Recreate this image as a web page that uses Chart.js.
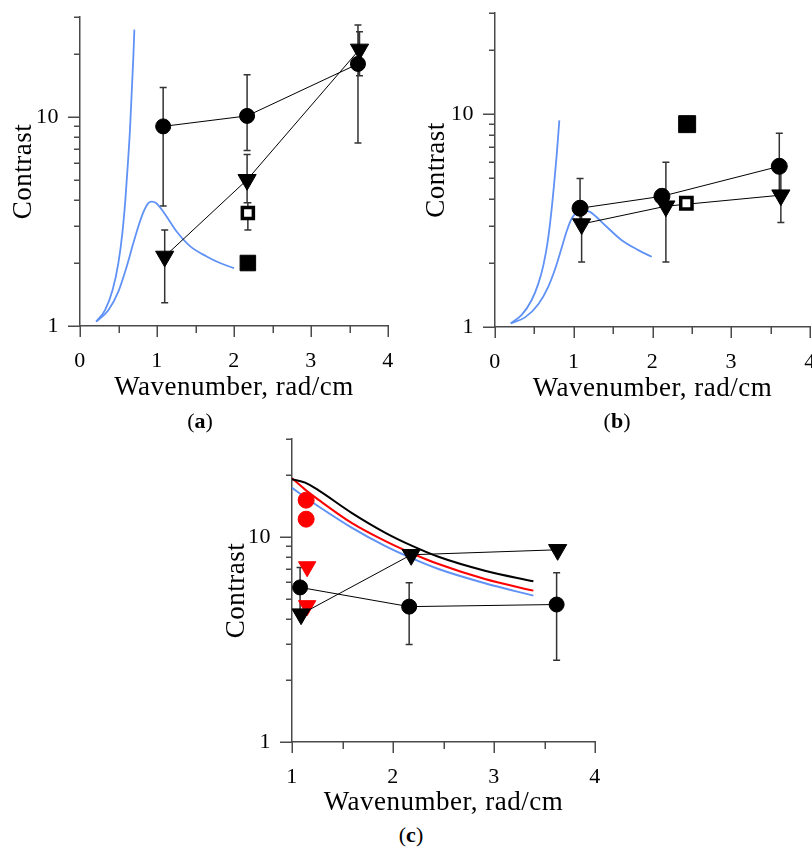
<!DOCTYPE html>
<html>
<head>
<meta charset="utf-8">
<script src="https://cdn.jsdelivr.net/npm/chart.js@4.4.0/dist/chart.umd.min.js"></script>
<style>
  html, body { margin: 0; padding: 0; background: #fff; }
  body { position: relative; width: 812px; height: 850px; overflow: hidden; }
  canvas { position: absolute; }
  .tag { position: absolute; font-family: "Liberation Serif", "Times New Roman", serif; font-size: 22px; color: #000;
         line-height: 1; transform: translate(-50%, -50%); white-space: nowrap; }
</style>
</head>
<body>
<canvas id="chartA" width="400" height="404" style="left:0;top:0"></canvas>
<canvas id="chartB" width="430" height="405" style="left:400px;top:0"></canvas>
<canvas id="chartC" width="412" height="399" style="left:200px;top:420px"></canvas>
<div class="tag" style="left:200px;top:421px">(<b>a</b>)</div>
<div class="tag" style="left:617px;top:421px">(<b>b</b>)</div>
<div class="tag" style="left:411px;top:835px">(<b>c</b>)</div>

<script>
// ---- shared axis ticks ----
var yTickValues = [1, 2, 3, 4, 5, 6, 7, 8, 9, 10, 20, 30];
var yLabelled = [1, 10];

// ---- panel (a) ----
var aCircleX = [1.08, 2.17, 3.61];
var aCircleY = [9.0, 10.1, 17.9];
var aCircleHi = [13.8, 15.9, 27.5];
var aCircleLo = [3.75, 6.9, 7.5];
var aTriX = [1.10, 2.17, 3.63];
var aTriY = [2.15, 5.0, 21.0];
var aTriHi = [2.88, 6.6, 25.5];
var aTriLo = [1.29, 3.88, 15.7];
var aOpenX = [2.18];
var aOpenY = [3.47];
var aOpenHi = [3.88];
var aOpenLo = [2.88];
var aFillX = [2.18];
var aFillY = [2.0];
var aSteepX = [0.21, 0.325, 0.424, 0.498, 0.550, 0.589, 0.619, 0.649, 0.675, 0.693, 0.706];
var aSteepY = [1.05, 1.19, 1.49, 2.0, 2.78, 4.01, 5.78, 8.67, 13.96, 19.4, 26.1];
var aPeakX = [0.21, 0.368, 0.498, 0.606, 0.693, 0.771, 0.836, 0.887, 0.931, 0.987, 1.082, 1.255, 1.429, 1.645, 1.818, 2.0];
var aPeakY = [1.05, 1.19, 1.46, 1.92, 2.49, 3.10, 3.59, 3.87, 3.93, 3.87, 3.52, 2.83, 2.41, 2.15, 2.0, 1.89];

// ---- panel (b) ----
var bCircleX = [1.08, 2.12, 3.61];
var bCircleY = [3.62, 4.12, 5.7];
var bCircleHi = [5.0, null, 8.15];
var bCircleLo = [3.08, null, 4.17];
var bTriX = [1.10, 2.17, 3.63];
var bTriY = [3.05, 3.7, 4.17];
var bTriHi = [3.62, 5.95, 5.7];
var bTriLo = [2.02, 2.02, 3.1];
var bOpenX = [2.43];
var bOpenY = [3.82];
var bFillX = [2.44];
var bFillY = [9.0];
var bSteepX = [0.20, 0.339, 0.466, 0.550, 0.614, 0.669, 0.711, 0.749, 0.783, 0.817];
var bSteepY = [1.04, 1.14, 1.34, 1.60, 1.95, 2.52, 3.36, 4.64, 6.42, 9.37];
var bPeakX = [0.20, 0.381, 0.550, 0.677, 0.762, 0.838, 0.910, 0.974, 1.037, 1.122, 1.206, 1.397, 1.609, 1.82, 1.99];
var bPeakY = [1.04, 1.11, 1.28, 1.55, 1.87, 2.30, 2.82, 3.24, 3.45, 3.53, 3.48, 3.01, 2.56, 2.30, 2.14];

// ---- panel (c) ----
var cCircleX = [1.08, 2.16, 3.62];
var cCircleY = [5.67, 4.57, 4.68];
var cCircleHi = [7.1, 5.98, 6.69];
var cCircleLo = [4.2, 2.99, 2.5];
var cTriX = [1.09, 2.18, 3.63];
var cTriY = [4.2, 8.18, 8.65];
var cRedCircleX = [1.14, 1.14];
var cRedCircleY = [15.1, 12.2];
var cRedTriX = [1.15, 1.15];
var cRedTriY = [7.15, 4.62];
var cCurveX = [1.0, 1.13, 1.26, 1.59, 1.92, 2.19, 2.45, 2.91, 3.39];
var cBlackY = [19.1, 18.4, 16.9, 13.1, 10.5, 9.04, 8.0, 6.84, 6.07];
var cRedY = [19.3, 17.0, 15.2, 11.7, 9.56, 8.3, 7.37, 6.23, 5.47];
var cBlueY = [17.35, 15.6, 14.1, 11.1, 9.04, 7.85, 6.97, 5.94, 5.17];

var AXIS = '#4a4a4a';
var BLUE = 'rgb(96,146,246)';
var RED = '#ff0000';

Chart.defaults.font.family = '"Liberation Serif", "Times New Roman", serif';
Chart.defaults.color = '#000';

function points(xs, ys) {
  return xs.map(function (x, i) { return { x: x, y: ys[i] }; });
}

function curve(xs, ys, color, width) {
  return {
    data: points(xs, ys), showLine: true, borderColor: color, borderWidth: width,
    pointRadius: 0, cubicInterpolationMode: 'monotone', order: 5
  };
}

function markers(xs, ys, style, radius, extra) {
  var ds = {
    data: points(xs, ys), showLine: false, pointStyle: style, pointRadius: radius,
    pointBackgroundColor: '#000', pointBorderColor: '#000', pointBorderWidth: 1,
    borderColor: '#000', borderWidth: 1, order: 2
  };
  if (style === 'triangle') ds.pointRotation = 180;
  for (var k in extra) ds[k] = extra[k];
  return ds;
}

function bars(xs, hi, lo) {
  var out = [];
  xs.forEach(function (x, i) {
    if (hi[i] != null && lo[i] != null) out.push({ x: x, hi: hi[i], lo: lo[i] });
  });
  return out;
}

// slightly open lettering like the typeset labels
var letterSpacingPlugin = {
  id: 'letterSpacing',
  beforeDraw: function (chart) { chart.ctx.letterSpacing = '0.5px'; }
};

// vertical error bars with small caps, under the markers
var errorBarPlugin = {
  id: 'errorBars',
  beforeDatasetsDraw: function (chart, args, opts) {
    var ctx = chart.ctx, xs = chart.scales.x, ys = chart.scales.y;
    var cap = 3.5;
    ctx.save();
    ctx.strokeStyle = '#333';
    ctx.lineWidth = 1.5;
    ctx.beginPath();
    (opts.bars || []).forEach(function (b) {
      var x = xs.getPixelForValue(b.x);
      var y1 = ys.getPixelForValue(b.hi), y2 = ys.getPixelForValue(b.lo);
      ctx.moveTo(x, y1); ctx.lineTo(x, y2);
      ctx.moveTo(x - cap, y1); ctx.lineTo(x + cap, y1);
      ctx.moveTo(x - cap, y2); ctx.lineTo(x + cap, y2);
    });
    ctx.stroke();
    ctx.restore();
  }
};

// outward tick marks: long on labelled values, short elsewhere
var tickMarkPlugin = {
  id: 'tickMarks',
  afterDraw: function (chart) {
    var ctx = chart.ctx, xs = chart.scales.x, ys = chart.scales.y, area = chart.chartArea;
    ctx.save();
    ctx.strokeStyle = AXIS;
    ctx.lineWidth = 1.5;
    ctx.beginPath();
    ys.ticks.forEach(function (t) {
      var y = Math.round(ys.getPixelForValue(t.value)) + 0.25;
      var len = yLabelled.indexOf(t.value) >= 0 ? 12 : 6;
      ctx.moveTo(area.left - len, y); ctx.lineTo(area.left, y);
    });
    xs.ticks.forEach(function (t) {
      var x = Math.round(xs.getPixelForValue(t.value)) + 0.25;
      var len = Number.isInteger(t.value) ? 11 : 7;
      ctx.moveTo(x, area.bottom); ctx.lineTo(x, area.bottom + len);
    });
    ctx.stroke();
    ctx.restore();
  }
};

function makePanel(id, p) {
  return new Chart(document.getElementById(id), {
    type: 'scatter',
    data: { datasets: p.datasets },
    options: {
      responsive: false,
      animation: false,
      events: [],
      layout: { padding: p.padding },
      plugins: {
        legend: { display: false },
        tooltip: { enabled: false },
        errorBars: { bars: p.bars }
      },
      scales: {
        x: {
          type: 'linear', min: p.xMin, max: 4,
          grid: { display: false, drawTicks: false },
          border: { display: true, color: AXIS, width: 1.5 },
          ticks: {
            stepSize: 0.5, autoSkip: false, maxRotation: 0, padding: 22,
            font: { size: 22 },
            callback: function (v) { return Number.isInteger(v) ? String(v) : ''; }
          },
          title: { display: true, text: 'Wavenumber, rad/cm', font: { size: 27 }, padding: 0 },
          afterFit: function (s) {
            s.height = p.xHeight;
            s.paddingLeft = 0; s.paddingRight = 0;
          }
        },
        y: {
          type: 'logarithmic', min: 1, max: 30,
          grid: { display: false, drawTicks: false },
          border: { display: true, color: AXIS, width: 1.5 },
          ticks: {
            autoSkip: false, padding: 21, font: { size: 22 },
            callback: function (v) { return yLabelled.indexOf(v) >= 0 ? String(v) : ''; }
          },
          afterBuildTicks: function (s) {
            s.ticks = yTickValues.map(function (v) { return { value: v }; });
          },
          title: { display: true, text: 'Contrast', font: { size: 27 }, padding: 0 },
          afterFit: function (s) {
            s.width = p.yWidth;
            s.paddingTop = 0; s.paddingBottom = 0;
          }
        }
      }
    },
    plugins: [letterSpacingPlugin, errorBarPlugin, tickMarkPlugin]
  });
}

makePanel('chartA', {
  xMin: 0,
  padding: { left: 8, top: 17, right: 12, bottom: 0 },
  yWidth: 72, xHeight: 78,
  bars: bars(aCircleX, aCircleHi, aCircleLo)
    .concat(bars(aTriX, aTriHi, aTriLo))
    .concat(bars(aOpenX, aOpenHi, aOpenLo)),
  datasets: [
    markers(aOpenX, aOpenY, 'rect', 7.8, { pointBackgroundColor: '#fff', pointBorderWidth: 3.5, order: 0 }),
    markers(aCircleX, aCircleY, 'circle', 7.5, { showLine: true }),
    markers(aTriX, aTriY, 'triangle', 10.5, { showLine: true }),
    markers(aFillX, aFillY, 'rect', 11),
    curve(aSteepX, aSteepY, BLUE, 1.8),
    curve(aPeakX, aPeakY, BLUE, 1.8)
  ]
});

makePanel('chartB', {
  xMin: 0,
  padding: { left: 21, top: 13, right: 20, bottom: 0 },
  yWidth: 74, xHeight: 78,
  bars: bars(bCircleX, bCircleHi, bCircleLo).concat(bars(bTriX, bTriHi, bTriLo)),
  datasets: [
    markers(bOpenX, bOpenY, 'rect', 8, { pointBackgroundColor: '#fff', pointBorderWidth: 3.5, order: 0 }),
    markers(bCircleX, bCircleY, 'circle', 8, { showLine: true }),
    markers(bTriX, bTriY, 'triangle', 10.5, { showLine: true }),
    markers(bFillX, bFillY, 'rect', 12),
    curve(bSteepX, bSteepY, BLUE, 1.8),
    curve(bPeakX, bPeakY, BLUE, 1.8)
  ]
});

makePanel('chartC', {
  xMin: 1,
  padding: { left: 21, top: 19, right: 17, bottom: 0 },
  yWidth: 71, xHeight: 77,
  bars: bars(cCircleX, cCircleHi, cCircleLo),
  datasets: [
    markers(cCircleX, cCircleY, 'circle', 7.5, { showLine: true }),
    markers(cTriX, cTriY, 'triangle', 10.5, { showLine: true }),
    markers(cRedCircleX, cRedCircleY, 'circle', 8, { pointBackgroundColor: RED, pointBorderColor: RED }),
    markers(cRedTriX, cRedTriY, 'triangle', 10, { pointBackgroundColor: RED, pointBorderColor: RED }),
    curve(cCurveX, cBlackY, '#000', 2),
    curve(cCurveX, cRedY, RED, 2),
    curve(cCurveX, cBlueY, BLUE, 2)
  ]
});
</script>
</body>
</html>
